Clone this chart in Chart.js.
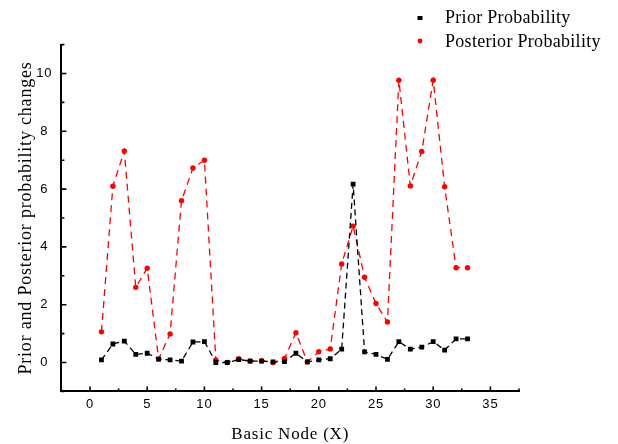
<!DOCTYPE html>
<html>
<head>
<meta charset="utf-8">
<script src="https://cdn.jsdelivr.net/npm/chart.js@4/dist/chart.umd.min.js"></script>
<style>
  html, body { margin: 0; padding: 0; background: #fff; }
  #wrap { width: 618px; height: 444px; position: relative; }
</style>
</head>
<body>
<div id="wrap"><canvas id="c" width="618" height="444"></canvas></div>
<script>
// ---- data ----
const nodes = [1,2,3,4,5,6,7,8,9,10,11,12,13,14,15,16,17,18,19,20,21,22,23,24,25,26,27,28,29,30,31,32,33];
const prior = [0.09,0.64,0.74,0.28,0.32,0.12,0.09,0.05,0.71,0.72,0.0,0.0,0.1,0.05,0.05,0.02,0.03,0.32,0.02,0.09,0.13,0.46,6.17,0.37,0.28,0.11,0.72,0.46,0.53,0.72,0.43,0.82,0.82];
const posterior = [1.06,6.1,7.32,2.6,3.26,0.12,0.99,5.6,6.73,7.0,0.09,0.0,0.13,0.05,0.06,0.0,0.14,1.03,0.02,0.37,0.47,3.41,4.72,2.95,2.04,1.40,9.77,6.11,7.3,9.77,6.08,3.28,3.28];
const xTickLabels = [0,5,10,15,20,25,30,35];
const yTickLabels = [0,2,4,6,8,10];
const xMinorTicks = [-2.5,2.5,7.5,12.5,17.5,22.5,27.5,32.5,37.5];
const yMinorTicks = [-1,1,3,5,7,9,11];
const seriesNames = ['Prior Probability', 'Posterior Probability'];

const toPts = (ys) => nodes.map((x, i) => ({x: x, y: ys[i]}));

// wider letter spacing like the reference's rendering
const spacing = {
  id: 'spacing',
  beforeDraw(chart) { chart.ctx.letterSpacing = '0.8px'; },
  afterDraw(chart) { chart.ctx.letterSpacing = '0px'; }
};

// inward tick marks drawn through the scales
const inwardTicks = {
  id: 'inwardTicks',
  afterDraw(chart) {
    const ctx = chart.ctx, xs = chart.scales.x, ys = chart.scales.y;
    const a = chart.chartArea;
    ctx.save();
    ctx.strokeStyle = '#000';
    ctx.lineWidth = 1.6;
    ctx.beginPath();
    xTickLabels.forEach(v => { const p = xs.getPixelForValue(v); ctx.moveTo(p, a.bottom); ctx.lineTo(p, a.bottom - 5); });
    xMinorTicks.forEach(v => { const p = xs.getPixelForValue(v); ctx.moveTo(p, a.bottom); ctx.lineTo(p, a.bottom - 3); });
    yTickLabels.forEach(v => { const p = ys.getPixelForValue(v); ctx.moveTo(a.left, p); ctx.lineTo(a.left + 5, p); });
    yMinorTicks.forEach(v => { const p = ys.getPixelForValue(v); ctx.moveTo(a.left, p); ctx.lineTo(a.left + 3, p); });
    ctx.stroke();
    ctx.restore();
  }
};

// legend drawn at top right
const topLegend = {
  id: 'topLegend',
  afterDraw(chart) {
    const ctx = chart.ctx;
    ctx.save();
    ctx.letterSpacing = '0.3px';
    ctx.font = '18px "Liberation Serif", "Times New Roman", serif';
    ctx.fillStyle = '#000';
    ctx.textBaseline = 'middle';
    ctx.textAlign = 'left';
    ctx.fillText(seriesNames[0], 445, 18);
    ctx.fillText(seriesNames[1], 445, 42);
    ctx.fillStyle = '#000';
    ctx.fillRect(417.5, 16, 5, 4);
    ctx.fillStyle = '#ff0000';
    ctx.beginPath();
    ctx.arc(420, 41, 2.4, 0, Math.PI * 2);
    ctx.fill();
    ctx.restore();
  }
};

new Chart(document.getElementById('c'), {
  type: 'line',
  data: {
    datasets: [
      {
        label: seriesNames[0],
        data: toPts(prior),
        borderColor: '#000',
        backgroundColor: '#000',
        borderWidth: 1.3,
        borderDash: [6, 4],
        pointStyle: 'rect',
        pointRadius: 3.4,
        pointBorderWidth: 0,
        tension: 0,
        fill: false
      },
      {
        label: seriesNames[1],
        data: toPts(posterior),
        borderColor: '#ff0000',
        backgroundColor: '#ff0000',
        borderWidth: 1.3,
        borderDash: [7, 5],
        pointStyle: 'circle',
        pointRadius: 2.7,
        pointBorderWidth: 0,
        tension: 0,
        fill: false
      }
    ]
  },
  options: {
    responsive: false,
    animation: false,
    devicePixelRatio: 1,
    layout: { padding: { top: 44.6, right: 99, bottom: 0, left: 0 } },
    plugins: { legend: { display: false }, tooltip: { enabled: false } },
    scales: {
      x: {
        type: 'linear',
        min: -2.5,
        max: 37.5,
        afterFit(s) { s.height = 52.6; },
        afterBuildTicks(s) { s.ticks = xTickLabels.map(v => ({value: v})); },
        grid: { display: false },
        border: { display: true, color: '#000', width: 2 },
        ticks: {
          color: '#000',
          padding: -3,
          maxRotation: 0,
          font: { family: '"Liberation Sans", Arial, sans-serif', size: 13 }
        },
        title: {
          display: true,
          text: 'Basic Node (X)',
          color: '#000',
          padding: { top: 0, bottom: 1 },
          font: { family: '"Liberation Serif", "Times New Roman", serif', size: 17, lineHeight: 1 }
        }
      },
      y: {
        type: 'linear',
        min: -1,
        max: 11,
        afterFit(s) { s.width = 61.4; },
        afterBuildTicks(s) { s.ticks = yTickLabels.map(v => ({value: v})); },
        grid: { display: false },
        border: { display: true, color: '#000', width: 2 },
        ticks: {
          color: '#000',
          padding: 2,
          crossAlign: 'center',
          font: { family: '"Liberation Sans", Arial, sans-serif', size: 13 }
        },
        title: {
          display: true,
          text: 'Prior and Posterior probability changes',
          color: '#000',
          padding: { top: 17, bottom: 0 },
          font: { family: '"Liberation Serif", "Times New Roman", serif', size: 18, lineHeight: 1 }
        }
      }
    }
  },
  plugins: [spacing, inwardTicks, topLegend]
});
</script>
</body>
</html>
